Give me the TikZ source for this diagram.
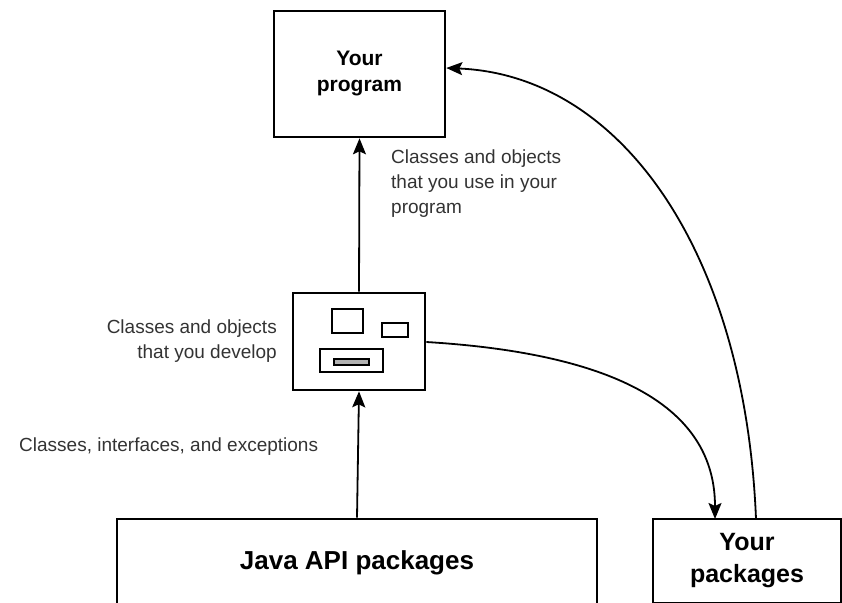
\documentclass[tikz,border=0pt]{standalone}
\usepackage{fontspec}
\setmainfont{Liberation Sans}
\usetikzlibrary{arrows.meta}

\begin{document}
\begin{tikzpicture}[
  x=1pt, y=-1pt,
  % Box styles
  box/.style={draw, line width=2.6pt, inner sep=0pt, align=center},
  prg/.style={box, minimum width=171pt, minimum height=126pt,
              font=\bfseries\fontsize{21}{26}\selectfont},
  pkg/.style={box, minimum width=188pt, minimum height=84pt,
              font=\bfseries\fontsize{25}{32}\selectfont},
  api/.style={box, minimum width=480pt, minimum height=88pt,
              font=\bfseries\fontsize{26}{32}\selectfont},
  dev/.style={box, minimum width=132pt, minimum height=97pt},
  % Little class boxes inside the developer box
  cls/.style={line width=2.2pt},
  % Arrow style
  flow/.style={-{Stealth[length=16pt, width=13pt, inset=3pt]}, line width=1.8pt},
  % Label style
  lbl/.style={font=\fontsize{19}{25}\selectfont, text=black!80, inner sep=0pt},
]
\useasboundingbox (0,0) rectangle (842,602);
\clip (0,0) rectangle (842,602);

% === Boxes ===
\node[prg] (prog) at (359.5, 74)  {Your\\program};
\node[dev] (devl) at (359, 341.5) {};
\node[api] (java) at (357, 563)   {Java API packages};
\node[pkg] (ypkg) at (747, 561)   {Your\\packages};

% classes and objects drawn inside the developer box
\draw[cls] (332,309) rectangle (363,333);
\draw[cls] (382,323) rectangle (408,337);
\draw[cls] (320,349) rectangle (383,372);
\draw[cls, fill=gray!60] (334,359) rectangle (369,365);

% === Labels ===
\node[lbl, align=left, anchor=north west] (uselbl) at (391, 150)
  {Classes and objects\\that you use in your\\program};
\node[lbl, align=right, anchor=east] (devlbl) at (277, 341)
  {Classes and objects\\that you develop};
\node[lbl, anchor=west] (apilbl) at (19, 447)
  {Classes, interfaces, and exceptions};

% === Arrows ===
\draw[flow] (java.north) -- (devl.south);
\draw[flow] (devl.north) -- (prog.south);

\coordinate (devout) at (devl.east |- 0,342);
\coordinate (pkgin)  at (715,519);
\coordinate (pkgout) at (756,519);
\coordinate (prgin)  at (prog.east |- 0,68);

\draw[flow] (devout) .. controls (640,355) and (715,420) .. (pkgin);
\draw[flow] (pkgout) .. controls (745,250) and (620,75) .. (prgin);

\end{tikzpicture}
\end{document}
